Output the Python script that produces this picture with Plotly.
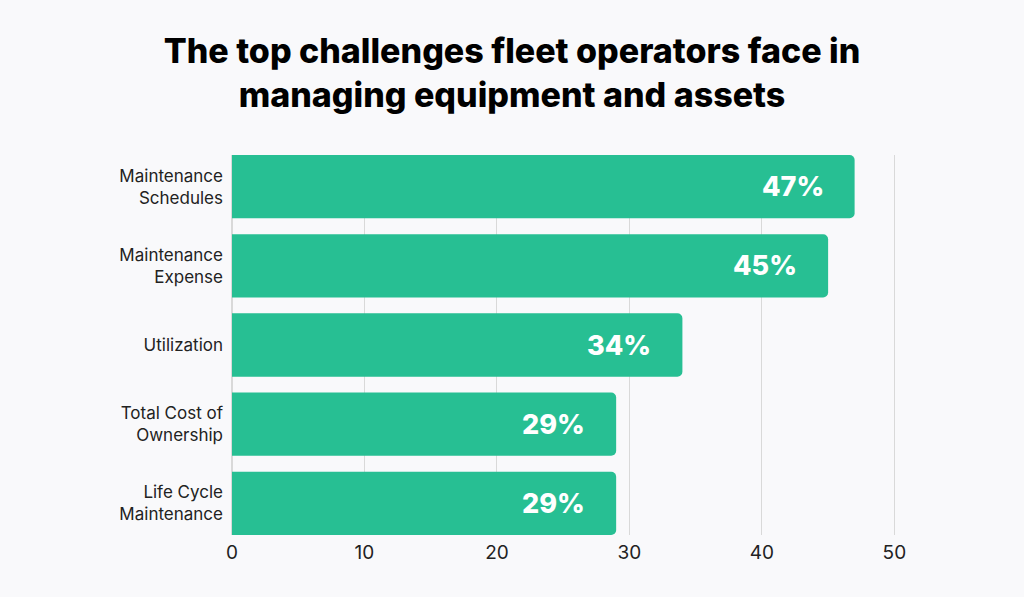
import plotly.graph_objects as go

categories = ["Maintenance<br>Schedules", "Maintenance<br>Expense", "Utilization",
              "Total Cost of<br>Ownership", "Life Cycle<br>Maintenance"]
values = [47, 45, 34, 29, 29]
labels = ["47%", "45%", "34%", "29%", "29%"]
x_ticks = [0, 10, 20, 30, 40, 50]

cats = categories[::-1]
vals = values[::-1]
labs = labels[::-1]

fig = go.Figure()
fig.add_trace(go.Bar(
    x=vals, y=cats, orientation="h", width=0.8,
    marker=dict(color="#27BF93", line=dict(width=0)),
    hoverinfo="skip",
))
for c, v, t in zip(cats, vals, labs):
    fig.add_annotation(x=v, y=c, text=t, showarrow=False, xanchor="right",
                       xshift=-29, font=dict(family="Inter", size=27, color="white", weight=800))

fig.update_layout(
    width=1024, height=597,
    paper_bgcolor="#F9F9FB", plot_bgcolor="#F9F9FB",
    margin=dict(l=232, r=127, t=155, b=62),
    barcornerradius=5,
    showlegend=False,
    title=dict(text="The top challenges fleet operators face in<br>managing equipment and assets",
               x=0.5, xanchor="center", y=0.895, yanchor="top",
               font=dict(family="Inter", size=34, color="#000000", weight=800)),
    font=dict(family="Inter", color="#222222"),
)
fig.update_xaxes(range=[0, 50.2], tickvals=x_ticks, showgrid=True, gridcolor="#D9D9D9",
                 gridwidth=1, zeroline=True, zerolinecolor="#D9D9D9", showline=False,
                 tickfont=dict(size=19, color="#222222"), ticks="", fixedrange=True,
                 ticklabelstandoff=4)
fig.update_yaxes(range=[-0.4, 4.4], showgrid=False, ticks="", fixedrange=True,
                 tickfont=dict(size=17, color="#222222"), ticklabelstandoff=8)

fig.write_html("out.html", config={"displayModeBar": False},
               post_script="document.body.style.margin='0';document.body.style.background='#F9F9FB';")
